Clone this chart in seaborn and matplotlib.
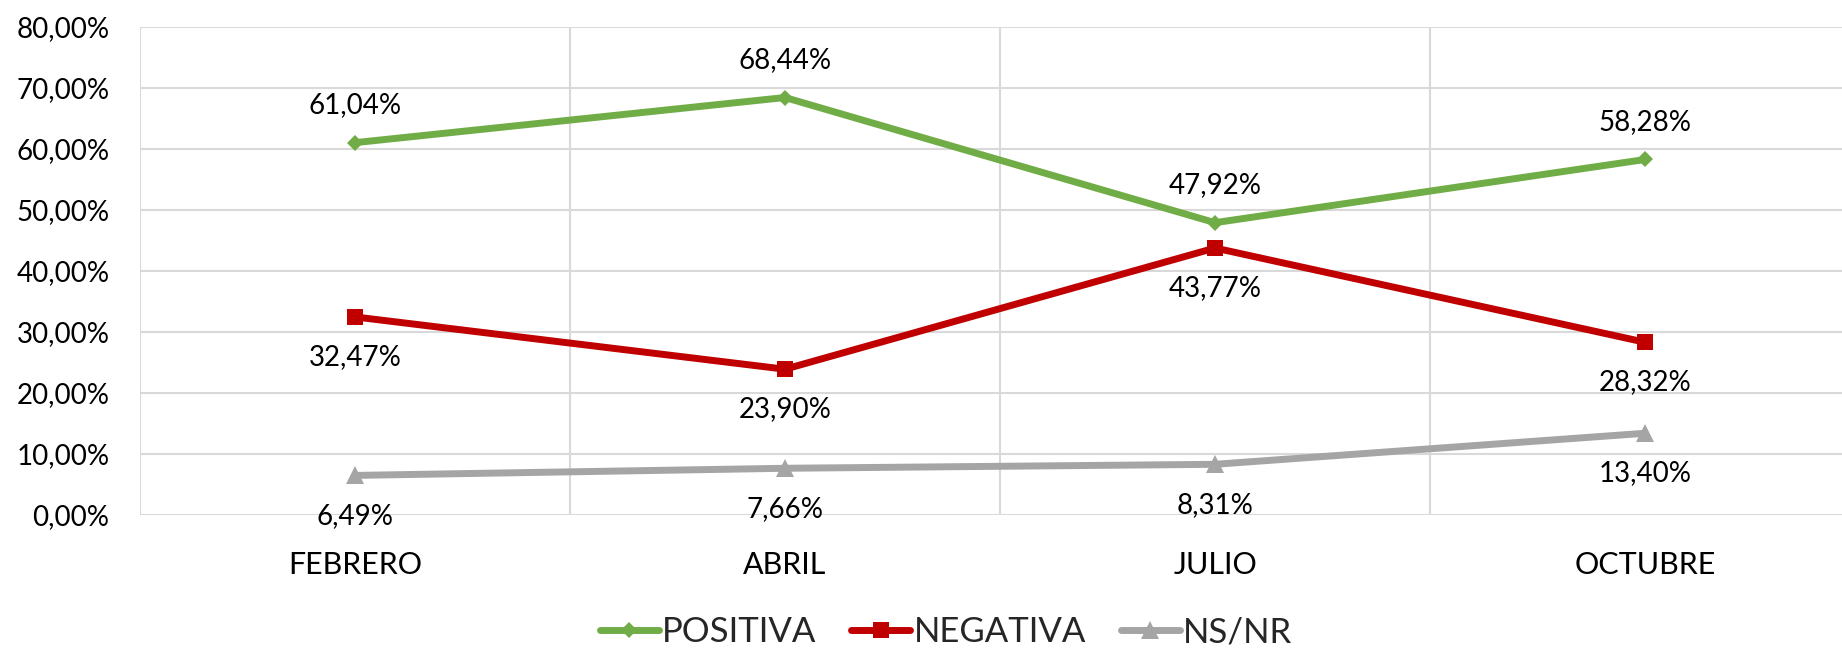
import matplotlib
matplotlib.use("Agg")
import matplotlib.pyplot as plt
import seaborn as sns
import pandas as pd
import numpy as np
from matplotlib.ticker import FuncFormatter, MultipleLocator, FixedLocator

meses = ["FEBRERO", "ABRIL", "JULIO", "OCTUBRE"]
positiva = [61.04, 68.44, 47.92, 58.28]
negativa = [32.47, 23.90, 43.77, 28.32]
nsnr = [6.49, 7.66, 8.31, 13.40]
series_names = ["POSITIVA", "NEGATIVA", "NS/NR"]
colors = ["#70AD47", "#C00000", "#A5A5A5"]
markers = ["D", "s", "^"]
marker_sizes = [8, 11, 13]
label_pos = ["above", "below", "below"]

sns.set_theme(style="white")
plt.rcParams["font.family"] = ["Lato", "DejaVu Sans"]

fig = plt.figure(figsize=(18.42, 6.49), dpi=100)
ax = fig.add_axes([140/1842, 134/649, 1720/1842, 488/649])

values = [positiva, negativa, nsnr]
for name, vals, c, m, ms in zip(series_names, values, colors, markers, marker_sizes):
    df = pd.DataFrame({"x": np.arange(len(meses)), "y": vals})
    sns.lineplot(data=df, x="x", y="y", ax=ax, color=c, linewidth=5,
                 marker=m, markersize=ms, markeredgewidth=0, label=name,
                 zorder=3)

for vals, pos in zip(values, label_pos):
    for i, v in enumerate(vals):
        off = 27 if pos == "above" else -29
        ax.annotate(f"{v:.2f}%".replace(".", ","), (i, v), xytext=(0, off),
                    textcoords="offset points", ha="center", va="center",
                    fontsize=20, color="#000000")

ax.set_xlim(-0.5, 3.5)
ax.set_ylim(0, 80)
ax.yaxis.set_major_locator(MultipleLocator(10))
ax.yaxis.set_major_formatter(FuncFormatter(lambda v, p: f"{v:.2f}%".replace(".", ",")))
ax.set_xticks(range(len(meses)))
ax.set_xticklabels(meses)
ax.xaxis.set_minor_locator(FixedLocator([-0.5, 0.5, 1.5, 2.5, 3.5]))
ax.grid(axis="y", which="major", color="#D9D9D9", linewidth=1.5, zorder=0)
ax.grid(axis="x", which="minor", color="#D9D9D9", linewidth=1.5, zorder=0)
ax.grid(axis="x", which="major", visible=False)
for s in ax.spines.values():
    s.set_visible(False)
ax.tick_params(axis="y", labelsize=20, pad=22, length=0, colors="#000000")
ax.tick_params(axis="x", which="major", labelsize=22, pad=26, length=0, colors="#000000")
ax.tick_params(axis="x", which="minor", length=0)
ax.set_xlabel("")
ax.set_ylabel("")

ax.legend(loc="center", bbox_to_anchor=(946/1842, 17/649), bbox_transform=fig.transFigure,
          ncol=3, frameon=False, fontsize=25, handlelength=1.7, handletextpad=0.1,
          columnspacing=1.0)

fig.savefig("out.png", dpi=100)
